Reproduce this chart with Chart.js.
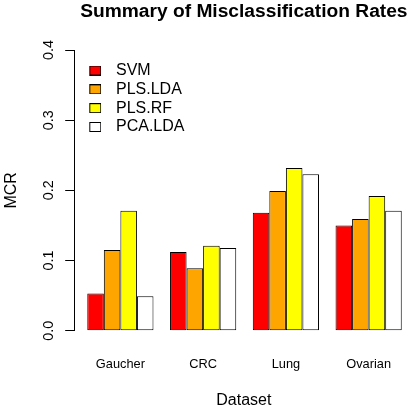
<!DOCTYPE html>
<html>
<head>
<meta charset="utf-8">
<script src="https://cdn.jsdelivr.net/npm/chart.js@4/dist/chart.umd.min.js"></script>
<style>
  html, body { margin: 0; padding: 0; background: #ffffff; }
  #wrap { width: 413px; height: 410px; }
</style>
</head>
<body>
<div id="wrap"><canvas id="c" width="413" height="410"></canvas></div>
<script>
// ---- data ----
const categories = ["Gaucher", "CRC", "Lung", "Ovarian"];
const seriesNames = ["SVM", "PLS.LDA", "PLS.RF", "PCA.LDA"];
const svm    = [0.053, 0.112, 0.168, 0.150];
const plsLda = [0.115, 0.089, 0.199, 0.159];
const plsRf  = [0.171, 0.121, 0.232, 0.192];
const pcaLda = [0.049, 0.118, 0.223, 0.171];
const yTicks = [0.0, 0.1, 0.2, 0.3, 0.4];
const seriesColors = ["#FF0000", "#FFA500", "#FFFF00", "#FFFFFF"];

const FONT = "'Liberation Sans', Arial, Helvetica, sans-serif";
Chart.defaults.font.family = FONT;
Chart.defaults.color = "#000000";

// R barplot layout: each group = 1 gap unit + 4 bar units
const groupCenter = (i) => 3 + 5 * i;
const allSeries = [svm, plsLda, plsRf, pcaLda];

function swatch(color) {
  const c = document.createElement("canvas");
  c.width = 17; c.height = 10;
  const g = c.getContext("2d");
  g.fillStyle = color;
  g.fillRect(5.5, 0.5, 11, 9);
  g.strokeStyle = "#000000";
  g.lineWidth = 1;
  g.strokeRect(5.5, 0.5, 11, 9);
  return c;
}

const datasets = allSeries.map((vals, s) => ({
  label: seriesNames[s],
  data: categories.map((c, i) => ({ x: groupCenter(i), y: vals[i] })),
  backgroundColor: seriesColors[s],
  borderColor: "#000000",
  borderWidth: 1,
  borderSkipped: false,
  barPercentage: 1.0,
  categoryPercentage: 0.8
}));

new Chart(document.getElementById("c"), {
  type: "bar",
  data: { datasets },
  options: {
    responsive: false,
    animation: false,
    devicePixelRatio: 1,
    layout: { padding: { left: 0, right: 0, top: 0, bottom: 0 } },
    plugins: {
      title: {
        display: true,
        text: "Summary of Misclassification Rates",
        fullSize: false,
        font: { size: 19.2, weight: "bold", lineHeight: 1.2 },
        color: "#000000",
        padding: { top: 0, bottom: 26.96 }
      },
      legend: {
        display: true,
        position: "chartArea",
        align: "start",
        title: { display: true, text: "", font: { size: 8, lineHeight: 1.2 }, padding: { top: 50.07, bottom: 0 } },
        labels: {
          font: { size: 16 },
          color: "#000000",
          usePointStyle: true,
          pointStyleWidth: 30.5,
          padding: 2.83,
          generateLabels(chart) {
            const items = Chart.defaults.plugins.legend.labels.generateLabels(chart);
            items.forEach((it, k) => { it.pointStyle = swatch(seriesColors[k]); });
            return items;
          }
        }
      },
      tooltip: { enabled: false }
    },
    scales: {
      x: {
        type: "linear",
        offset: false,
        min: 0.24,
        max: 20.68,
        grid: { display: false, offset: false },
        border: { display: false },
        afterBuildTicks(scale) {
          scale.ticks = categories.map((c, i) => ({ value: groupCenter(i) }));
        },
        afterFit(scale) { scale.height = 79.3; },
        ticks: {
          font: { size: 12.8 },
          color: "#000000",
          padding: 17.6,
          maxRotation: 0,
          autoSkip: false,
          callback: (v, i) => categories[i]
        },
        title: {
          display: true,
          text: "Dataset",
          font: { size: 16 },
          color: "#000000",
          padding: { top: 0, bottom: 0 }
        }
      },
      y: {
        type: "linear",
        min: 0,
        max: 0.4,
        afterBuildTicks(scale) {
          scale.ticks = yTicks.map(v => ({ value: v }));
        },
        afterFit(scale) { scale.width = 74.7; },
        grid: { drawOnChartArea: false, drawTicks: true, tickLength: 9.5, color: "#000000" },
        border: { display: true, color: "#000000" },
        ticks: {
          font: { size: 14.4 },
          color: "#000000",
          minRotation: 90,
          maxRotation: 90,
          crossAlign: "center",
          padding: 5.7,
          callback: (v) => Number(v).toFixed(1)
        },
        title: {
          display: true,
          text: "MCR",
          font: { size: 16 },
          color: "#000000",
          padding: { top: 2, bottom: 0 }
        }
      }
    }
  }
});
</script>
</body>
</html>
